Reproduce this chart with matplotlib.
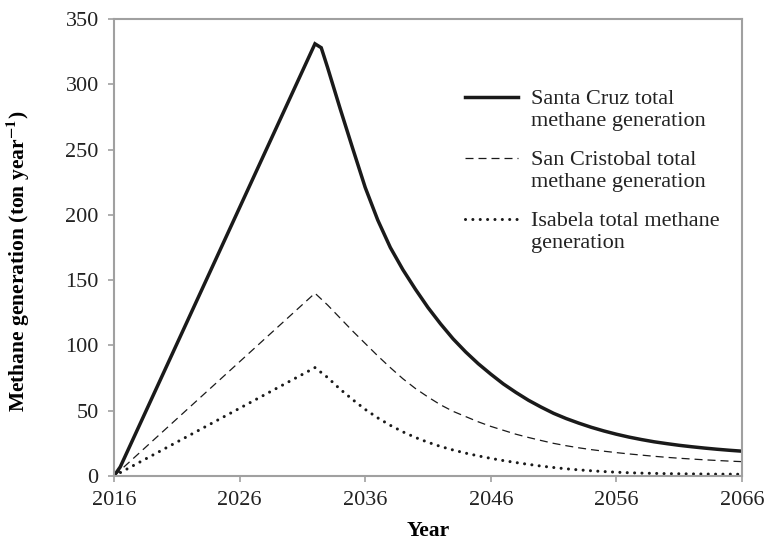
import numpy as np
import matplotlib
matplotlib.use("Agg")
from matplotlib import pyplot as plt
from matplotlib.legend_handler import HandlerLine2D

plt.rcParams['font.family'] = ['Liberation Serif', 'DejaVu Serif']
plt.rcParams['mathtext.fontset'] = 'stix'
plt.rcParams['text.color'] = '#222222'

# Methane generation per island (ton per year)
sc_years = [2016, 2016.5, 2032, 2032.5] + list(range(2033, 2067))
sc_values = [0, 7, 331, 328,
             313, 281.5, 251, 221, 196, 175, 158, 143, 129, 116.5,
             105, 95, 86, 78, 70.5, 64, 58, 52.8, 48, 44,
             40.5, 37.3, 34.5, 32, 29.8, 27.9, 26.2, 24.8, 23.5, 22.4,
             21.4, 20.5, 19.7, 19]

scr_years = [2016] + list(range(2032, 2067))
scr_values = [0, 140,
              131, 121, 111, 101.5, 92, 83, 74.5, 67, 60.5, 54.5,
              49.5, 45.5, 41.5, 38, 35, 32, 29.5, 27.2, 25, 23.2,
              21.6, 20.2, 19, 17.9, 16.9, 16, 15.1, 14.3, 13.6, 13,
              12.4, 11.9, 11.4, 11]

isa_years = [2016] + list(range(2032, 2067))
isa_values = [0, 83,
              75.5, 66.5, 58.5, 51, 44.5, 38.8, 33.8, 29.5, 25.8, 22.6,
              19.9, 17.5, 15.4, 13.5, 11.8, 10.3, 8.9, 7.6, 6.5, 5.5,
              4.7, 4.0, 3.4, 2.9, 2.5, 2.2, 2.0, 1.8, 1.7, 1.6,
              1.5, 1.4, 1.4, 1.3]

labels = ["Santa Cruz total\nmethane generation",
          "San Cristobal total\nmethane generation",
          "Isabela total methane\ngeneration"]
x_ticks = [2016, 2026, 2036, 2046, 2056, 2066]
y_ticks = [0, 50, 100, 150, 200, 250, 300, 350]


class FirstLineHandler(HandlerLine2D):
    # put the legend sample next to the first line of a two-line label
    def create_artists(self, legend, orig_handle, xdescent, ydescent,
                       width, height, fontsize, trans):
        artists = super().create_artists(legend, orig_handle, xdescent, ydescent,
                                          width, height, fontsize, trans)
        for a in artists:
            a.set_ydata(np.asarray(a.get_ydata()) + 0.58 * fontsize)
        return artists


fig = plt.figure(figsize=(7.66, 5.42), dpi=100)
ax = fig.add_axes([114 / 766, 1 - 476 / 542, 628 / 766, 457 / 542])

ink = '#1a1a1a'
l1, = ax.plot(sc_years, sc_values, color=ink, lw=2.5, solid_joinstyle='miter')
l2, = ax.plot(scr_years, scr_values, color=ink, lw=0.9, linestyle=(0, (6.4, 4)))
l3, = ax.plot(isa_years, isa_values, color=ink, lw=2.2,
              linestyle=(0, (0.01, 2.4)), dash_capstyle='round')

ax.set_xlim(2016, 2066)
ax.set_ylim(0, 350)
ax.set_xticks(x_ticks)
ax.set_yticks(y_ticks)

grey = '#a0a0a0'
for s in ax.spines.values():
    s.set_color(grey)
    s.set_linewidth(1.5)
ax.tick_params(direction='out', length=4, width=1.2, color=grey,
               labelsize=16, labelcolor='#222222', pad=7)

ax.set_xlabel("Year", fontsize=15.5, fontweight='bold', labelpad=8)
ax.set_ylabel(r"Methane generation (ton year$^{\mathbf{-1}}$)",
              fontsize=15.5, fontweight='bold')
ax.yaxis.set_label_coords(-0.13, 0.47)

hl = FirstLineHandler()
ax.legend([l1, l2, l3], labels, loc='upper left', bbox_to_anchor=(0.559, 0.844),
          frameon=False, fontsize=16, borderpad=0, borderaxespad=0,
          handlelength=2.4, handletextpad=0.55, labelspacing=0.9,
          handler_map={l1: hl, l2: hl, l3: hl})

fig.savefig("out.png", dpi=100)
